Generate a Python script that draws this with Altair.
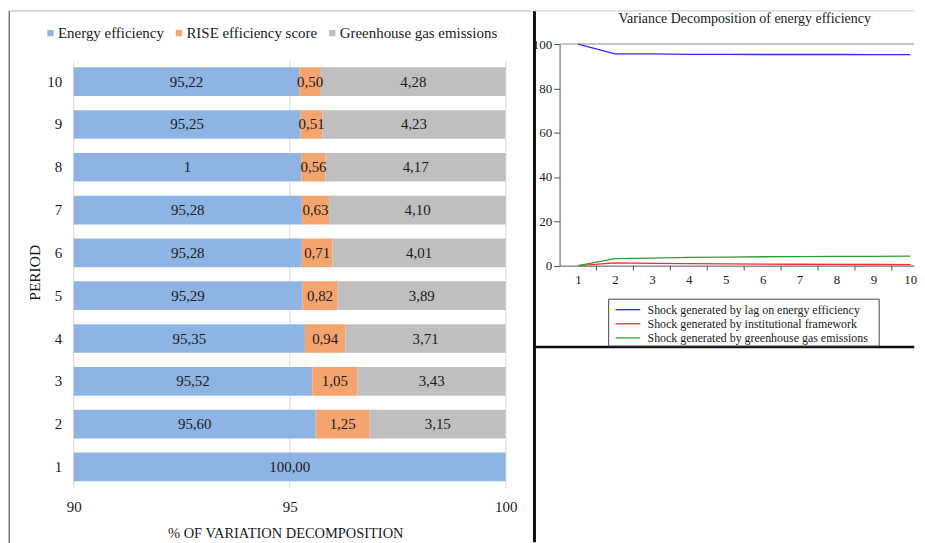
import altair as alt
import pandas as pd

# ---------------- data ----------------
periods = [1, 2, 3, 4, 5, 6, 7, 8, 9, 10]
energy = [100.00, 95.60, 95.52, 95.35, 95.29, 95.28, 95.28, 95.27, 95.25, 95.22]
energy_labels = ["100,00", "95,60", "95,52", "95,35", "95,29", "95,28", "95,28", "1", "95,25", "95,22"]
rise = [0.00, 1.25, 1.05, 0.94, 0.82, 0.71, 0.63, 0.56, 0.51, 0.50]
ghg = [0.00, 3.15, 3.43, 3.71, 3.89, 4.01, 4.10, 4.17, 4.23, 4.28]
bar_series = ["Energy efficiency", "RISE efficiency score", "Greenhouse gas emissions"]
bar_colors = ["#8db4e2", "#f4a46e", "#bfbfbf"]
bar_ticks = [90, 95, 100]

line_lag = [100.00, 95.60, 95.52, 95.35, 95.29, 95.28, 95.28, 95.27, 95.25, 95.22]
line_inst = [0.00, 1.25, 1.05, 0.94, 0.82, 0.71, 0.63, 0.56, 0.51, 0.50]
line_ghg = [0.00, 3.15, 3.43, 3.71, 3.89, 4.01, 4.10, 4.17, 4.23, 4.28]
line_series = ["Shock generated by lag on energy efficiency",
               "Shock generated by institutional framework",
               "Shock generated by greenhouse gas emissions"]
line_colors = ["#2b2bff", "#ff2a2a", "#2ea02e"]
line_yticks = [0, 20, 40, 60, 80, 100]
line_half_ticks = [1.5, 2.5, 3.5, 4.5, 5.5, 6.5, 7.5, 8.5, 9.5]
right_title = ["Variance Decomposition of energy efficiency"]

FONT = "Liberation Serif"
TXT = "#1a1a1a"
BOTTOM = 543.5   # page y of both panels' lower bound

# both plot areas share the same top (page y) because hconcat aligns origins
ORIGIN_Y = 41.7

# ---------------- left: stacked bars ----------------
rows = []
for i, p in enumerate(periods):
    for k, (s, vals) in enumerate(zip(bar_series, [energy, rise, ghg])):
        v = vals[i]
        if v <= 0:
            continue
        lab = energy_labels[i] if k == 0 else f"{v:.2f}".replace(".", ",")
        rows.append(dict(period=p, series=s, order=k, value=v, label=lab))
bar_df = pd.DataFrame(rows)

LX0, LY0 = 73.3, ORIGIN_Y
WL = 434
BAND_TOP, BAND_BOT = 58.0 - LY0, 488.0 - LY0
HL = BAND_BOT

x_scale = alt.Scale(domain=[90, 100], nice=False, zero=False)
x_axis_l = alt.Axis(values=bar_ticks, title="% OF VARIATION  DECOMPOSITION",
                    titleFont=FONT, titleFontSize=14.5, titleFontWeight="normal",
                    titleColor=TXT, titlePadding=12, titleX=212.5,
                    labelFont=FONT, labelFontSize=15, labelColor=TXT,
                    labelPadding=11, ticks=False, domain=False,
                    grid=False, labelFlush=False)
y_enc = alt.Y("period:O", sort="descending",
              scale=alt.Scale(range=[BAND_TOP, BAND_BOT], paddingInner=0.33,
                              paddingOuter=0.165),
              axis=alt.Axis(title="PERIOD", titleFont=FONT, titleFontSize=15.5,
                            titleFontWeight="normal", titleColor=TXT,
                            titleX=-39, titleY=271 - LY0, titleBaseline="middle",
                            titleAngle=-90,
                            labelFont=FONT, labelFontSize=15, labelColor=TXT,
                            labelPadding=12, ticks=False, domain=False, grid=False))

stacked = alt.Chart(bar_df).transform_stack(
    stack="value", groupby=["period"],
    sort=[alt.SortField("order", order="ascending")], as_=["x0", "x1"])

bars = stacked.mark_bar(clip=True).encode(
    x=alt.X("x0:Q", scale=x_scale, axis=x_axis_l),
    x2="x1:Q",
    y=y_enc,
    color=alt.Color("series:N", scale=alt.Scale(domain=bar_series, range=bar_colors),
                    legend=alt.Legend(title=None, orient="none", direction="horizontal",
                                      legendX=42.5 - LX0, legendY=23 - LY0,
                                      symbolType="square", symbolSize=40,
                                      symbolStrokeWidth=0, symbolOpacity=1,
                                      labelFont=FONT, labelFontSize=15, labelColor=TXT,
                                      labelOffset=0, columnPadding=7, padding=0,
                                      labelLimit=300)),
    order=alt.Order("order:Q"),
)

bar_text = stacked.transform_calculate(
    mid="(max(datum.x0, 90) + datum.x1) / 2"
).mark_text(font=FONT, fontSize=15, color=TXT, baseline="middle", align="center").encode(
    x=alt.X("mid:Q", scale=x_scale, axis=x_axis_l),
    y=y_enc,
    text="label:N",
)

# light vertical grid lines (and their tick stubs below the last bar)
tick_df = pd.DataFrame({"t": bar_ticks})
bar_grid = alt.Chart(tick_df).mark_rule(color="#d9d9d9").encode(
    x=alt.X("t:Q", scale=x_scale, axis=x_axis_l),
    y=alt.value(BAND_TOP + 0.6), y2=alt.value(BAND_BOT))

frame_l_df = pd.DataFrame({"k": [0]})
frame_left = alt.Chart(frame_l_df).mark_rule(color="#333333", strokeWidth=1).encode(
    x=alt.value(8.5 - LX0), y=alt.value(8.5 - LY0), y2=alt.value(BOTTOM - 0.5 - LY0))
frame_top = alt.Chart(frame_l_df).mark_rule(color="#b0b0b0", strokeWidth=1).encode(
    y=alt.value(8.5 - LY0), x=alt.value(8.5 - LX0), x2=alt.value(459.5))

left = alt.layer(frame_left, frame_top, bar_grid, bars, bar_text).properties(
    width=WL, height=HL)

# ---------------- right: lines ----------------
lrows = []
for k, (s, vals) in enumerate(zip(line_series, [line_lag, line_inst, line_ghg])):
    for i, p in enumerate(periods):
        lrows.append(dict(period=p, series=s, order=k, value=vals[i]))
line_df = pd.DataFrame(lrows)

RX0, RY0 = 560.7, ORIGIN_Y
WR, HR = 356, 222.6

xr = alt.Scale(domain=[0.5, 10.1], nice=False, zero=False)
yr = alt.Scale(domain=[0, 100], nice=False)
x_axis_r = alt.Axis(values=periods, format="d", title=None, ticks=False, grid=False,
                    domainColor="#555555", labelFont=FONT, labelFontSize=13,
                    labelColor=TXT, labelPadding=8, labelFlush=False,
                    labelOverlap=False, labelBound=False)
y_axis_r = alt.Axis(values=line_yticks, title=None, grid=False, tickSize=6,
                    tickColor="#555555", domainColor="#555555", labelPadding=2,
                    labelFont=FONT, labelFontSize=13, labelColor=TXT,
                    labelOverlap=False)

lines = alt.Chart(line_df).mark_line(strokeWidth=1.3).encode(
    x=alt.X("period:Q", scale=xr, axis=x_axis_r),
    y=alt.Y("value:Q", scale=yr, axis=y_axis_r),
    color=alt.Color("series:N", scale=alt.Scale(domain=line_series, range=line_colors),
                    legend=None),
    detail="series:N",
)

half_df = pd.DataFrame({"t": line_half_ticks})
half_ticks = alt.Chart(half_df).mark_rule(color="#555555").encode(
    x=alt.X("t:Q", scale=xr, axis=x_axis_r), y=alt.value(HR), y2=alt.value(HR + 5))

top_df = pd.DataFrame({"v": [100]})
top_line = alt.Chart(top_df).mark_rule(color="#8a8a8a").encode(
    y=alt.Y("v:Q", scale=yr, axis=y_axis_r), x=alt.value(0), x2=alt.value(WR))

frame_r_df = pd.DataFrame({"k": [0]})
divider = alt.Chart(frame_r_df).mark_rule(color="#111111", strokeWidth=3).encode(
    x=alt.value(535.5 - RX0), y=alt.value(8.5 - RY0), y2=alt.value(BOTTOM - 1.5 - RY0))
r_top = alt.Chart(frame_r_df).mark_rule(color="#c8c8c8", strokeWidth=1).encode(
    y=alt.value(8.5 - RY0), x=alt.value(535.5 - RX0), x2=alt.value(917 - RX0))
r_bottom = alt.Chart(frame_r_df).mark_rule(color="#111111", strokeWidth=2.5).encode(
    y=alt.value(346 - RY0), x=alt.value(535.5 - RX0), x2=alt.value(917 - RX0))

title_df = pd.DataFrame({"t": right_title})
r_title = alt.Chart(title_df).mark_text(font=FONT, fontSize=14, color=TXT,
                                        align="center", baseline="middle").encode(
    x=alt.value(746.7 - RX0), y=alt.value(17 - RY0), text="t:N")

main_r = alt.layer(top_line, half_ticks, lines)

# legend box
box = alt.Chart(frame_r_df).mark_rect(fill="white", stroke="#444444", strokeWidth=1).encode(
    x=alt.value(610 - RX0), x2=alt.value(881.7 - RX0),
    y=alt.value(298 - RY0), y2=alt.value(345 - RY0))
leg_df = pd.DataFrame({"series": line_series, "idx": [0, 1, 2]})
leg_y = alt.Y("idx:Q", scale=alt.Scale(domain=[0, 2], range=[308.5 - RY0, 336.9 - RY0]),
              axis=None)
leg_lines = alt.Chart(leg_df).mark_rule(strokeWidth=1.3).encode(
    x=alt.value(617 - RX0), x2=alt.value(641.7 - RX0), y=leg_y,
    color=alt.Color("series:N", scale=alt.Scale(domain=line_series, range=line_colors),
                    legend=None))
leg_text = alt.Chart(leg_df).mark_text(font=FONT, fontSize=12, color=TXT, align="left",
                                       baseline="middle").encode(
    x=alt.value(649 - RX0), y=leg_y, text="series:N")
legend_r = alt.layer(box, leg_lines, leg_text)

right = alt.layer(divider, r_top, r_bottom, r_title, main_r, legend_r).resolve_scale(
    y="independent", color="independent").properties(width=WR, height=HR)

chart = alt.hconcat(left, right, spacing=0).properties(padding=0).configure(
    font=FONT).configure_view(stroke=None)

chart.save("out.html", embed_options={"renderer": "svg", "actions": False})
